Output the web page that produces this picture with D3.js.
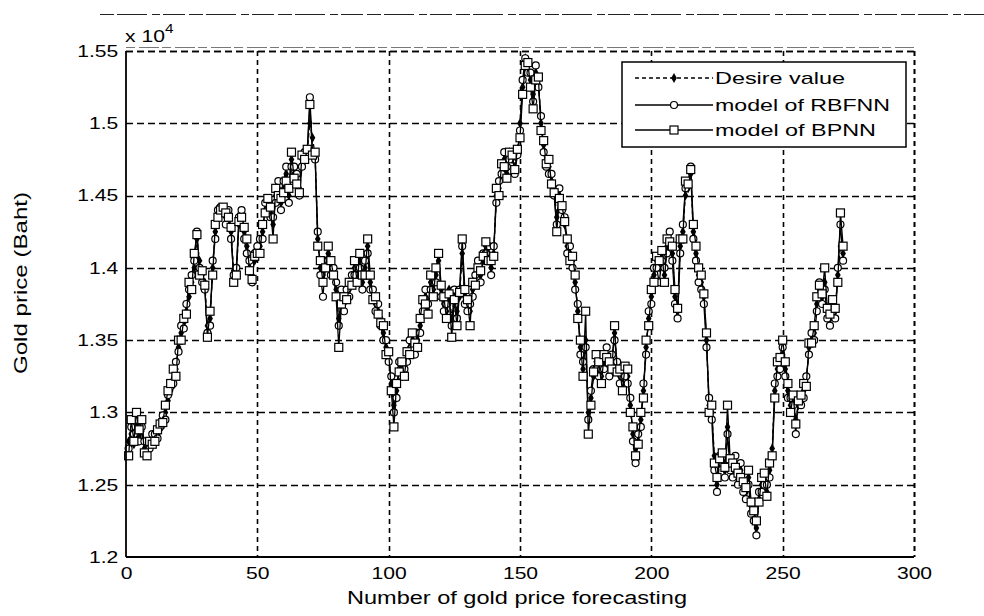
<!DOCTYPE html>
<html>
<head>
<meta charset="utf-8">
<script src="https://cdn.jsdelivr.net/npm/d3@7"></script>
<style>
  body { margin: 0; background: #fff; }
  text { font-family: "Liberation Sans", Arial, sans-serif; fill: #000; }
</style>
</head>
<body>
<svg id="chart" width="984" height="616"></svg>
<script>
// gold price (Baht), point number 1..273
const desire = [
  12800, 12850, 12780, 12900, 12830, 12870, 12750, 12720, 12760, 12800,
  12820, 12850, 12880, 12950, 13000, 13080, 13150, 13230, 13300, 13450,
  13550, 13620, 13700, 13800, 13900, 14000, 14200, 14050, 13950, 13900,
  13600, 13650, 14000, 14250, 14380, 14400, 14400, 14350, 14380, 14250,
  13980, 13950, 14300, 14370, 14250, 14150, 14000, 13950, 14050, 14120,
  14150, 14250, 14400, 14450, 14380, 14300, 14500, 14550, 14450, 14550,
  14650, 14500, 14750, 14650, 14600, 14550, 14750, 14780, 14800, 15000,
  14900, 14780, 14200, 14000, 13950, 14000, 14100, 14000, 13980, 13850,
  13650, 13800, 13750, 13800, 13850, 13900, 14000, 13950, 14050, 13900,
  14000, 14150, 13900, 13800, 13750, 13700, 13650, 13550, 13450, 13400,
  13200, 13050, 13150, 13300, 13300, 13280, 13400, 13450, 13500, 13450,
  13500, 13600, 13750, 13800, 13700, 13900, 13850, 13950, 14050, 13850,
  13750, 13700, 13850, 13650, 13800, 13700, 13800, 14100, 13800, 13750,
  13700, 13850, 13900, 14000, 13950, 14050, 14150, 14100, 14000, 14100,
  14500, 14550, 14700, 14750, 14650, 14800, 14750, 14700, 14800, 15000,
  15250, 15450, 15400, 15300, 15200, 15350, 15300, 15000, 14850, 14750,
  14700, 14600, 14550, 14350, 14500, 14450, 14300, 14150, 14100, 14050,
  13900, 13700, 13450, 13300, 13500, 13000, 13100, 13250, 13350, 13300,
  13250, 13350, 13400, 13300, 13350, 13550, 13300, 13250, 13200, 13300,
  13250, 13050, 12850, 12750, 12800, 12950, 13150, 13450, 13650, 13800,
  13950, 14050, 14000, 14100, 13950, 14150, 14200, 14100, 13800, 13700,
  14150, 14250, 14500, 14550, 14650, 14250, 14100, 13950, 13900, 13800,
  13500, 13050, 13000, 12700, 12500, 12650, 12700, 12600, 12900, 12650,
  12600, 12650, 12550, 12600, 12500, 12450, 12550, 12350, 12300, 12200,
  12400, 12500, 12550, 12450, 12600, 12750, 13150, 13300, 13350, 13400,
  13300, 13150, 13050, 13100, 12950, 13050, 13100, 13150, 13200, 13450,
  13500, 13550, 13750, 13850, 13800, 13900, 13700, 13650, 13750, 13700,
  13950, 14150, 14100
];
const rbfnn = [
  12750, 12900, 12850, 12950, 12800, 12900, 12800, 12700, 12750, 12850,
  12850, 12820, 12900, 12980, 12950, 13120, 13180, 13200, 13350, 13420,
  13600, 13580, 13750, 13850, 13950, 14050, 14250, 14000, 13900, 13850,
  13550, 13600, 14050, 14200, 14400, 14420, 14380, 14300, 14400, 14200,
  13950, 14000, 14350, 14400, 14200, 14100, 14050, 13900, 14100, 14150,
  14200, 14200, 14450, 14400, 14350, 14350, 14450, 14600, 14400, 14600,
  14700, 14450, 14700, 14700, 14650, 14500, 14700, 14800, 14780, 15180,
  14800, 14750, 14250, 13950, 13800, 14050, 14050, 13950, 14000, 13900,
  13600, 13850, 13700, 13850, 13800, 13950, 13950, 14000, 14000, 13850,
  14050, 14100, 13850, 13850, 13700, 13750, 13600, 13500, 13500, 13350,
  13250, 13000, 13100, 13350, 13250, 13300, 13350, 13500, 13450, 13400,
  13550, 13550, 13700, 13850, 13750, 13850, 13900, 13900, 14100, 13800,
  13700, 13750, 13800, 13600, 13850, 13650, 13850, 14150, 13750, 13700,
  13750, 13800, 13950, 14050, 13900, 14100, 14100, 14150, 13950, 14150,
  14450, 14600, 14650, 14800, 14700, 14750, 14800, 14650, 14780, 14950,
  15300, 15450, 15350, 15350, 15150, 15400, 15250, 15050, 14800, 14700,
  14650, 14650, 14500, 14300, 14550, 14400, 14350, 14100, 14150, 14000,
  13850, 13750, 13400, 13350, 13450, 12950, 13150, 13300, 13300, 13250,
  13300, 13300, 13450, 13250, 13400, 13500, 13350, 13200, 13250, 13250,
  13200, 13100, 12800, 12650, 12850, 12900, 13200, 13400, 13700, 13750,
  14000, 14000, 13900, 14050, 14000, 14100, 14250, 14050, 13750, 13650,
  14100, 14300, 14550, 14600, 14700, 14200, 14050, 13900, 13850, 13750,
  13450, 13100, 12950, 12600, 12450, 12700, 12650, 12550, 12850, 12600,
  12550, 12700, 12500, 12650, 12450, 12400, 12500, 12300, 12250, 12150,
  12450, 12450, 12500, 12500, 12550, 12700, 13200, 13250, 13300, 13450,
  13250, 13100, 13100, 13050, 12850, 13100, 13050, 13100, 13250, 13400,
  13550, 13500, 13700, 13900, 13750, 13850, 13650, 13600, 13700, 13650,
  14000, 14300, 14050
];
const bpnn = [
  12700, 12950, 12800, 13000, 12880, 12950, 12720, 12700, 12800, 12780,
  12800, 12880, 12920, 12930, 13050, 13150, 13200, 13300, 13250, 13500,
  13500, 13650, 13680, 13900, 13850, 14100, 14230, 13950, 13980, 13880,
  13520, 13700, 13950, 14300, 14350, 14400, 14420, 14380, 14350, 14280,
  13900, 13950, 14320, 14350, 14280, 14200, 13980, 13920, 14080, 14100,
  14100, 14300, 14380, 14480, 14420, 14200, 14550, 14500, 14480, 14520,
  14600, 14550, 14800, 14620, 14580, 14520, 14780, 14750, 14820, 15130,
  14780, 14800, 14150, 14050, 13900, 14000, 14150, 14050, 13950, 13800,
  13450, 13750, 13800, 13780, 13900, 13880, 14050, 13900, 14100, 13950,
  13950, 14200, 13950, 13780, 13800, 13680, 13620, 13600, 13400, 13420,
  13150, 12900, 13200, 13280, 13350, 13250, 13420, 13400, 13550, 13480,
  13450, 13650, 13780, 13750, 13680, 13950, 13800, 14000, 14100, 13880,
  13800, 13650, 13820, 13520, 13780, 13600, 13830, 14200, 13850, 13780,
  13600, 13900, 13880, 14000, 13980, 14080, 14180, 14050, 14050, 14080,
  14550, 14500, 14720, 14700, 14620, 14800, 14780, 14680, 14820, 14900,
  15200, 15400, 15420, 15250, 15100, 15300, 15320, 14950, 14880, 14720,
  14750, 14580, 14520, 14250, 14480, 14430, 14320, 14200, 14050, 14080,
  13950, 13650, 13500, 13250, 13700, 12850, 13050, 13280, 13400, 13350,
  13200, 13400, 13380, 13350, 13300, 13600, 13280, 13300, 13150, 13320,
  13300, 13000, 12900, 12700, 12780, 13000, 13100, 13500, 13600, 13850,
  13900, 14080, 14050, 14120, 13900, 14200, 14180, 14150, 13850, 13720,
  14200, 14200, 14600, 14580, 14680, 14300, 14150, 14000, 13950, 13820,
  13550, 13000, 13050, 12650, 12550, 12680, 12720, 12620, 13050, 12680,
  12650, 12620, 12580, 12550, 12520, 12480, 12600, 12380, 12320, 12250,
  12380, 12550, 12580, 12420, 12650, 12700, 13100, 13350, 13380, 13500,
  13350, 13200, 13000, 13120, 12920, 13080, 13120, 13200, 13180, 13480,
  13480, 13600, 13800, 13880, 13820, 14000, 13720, 13680, 13780, 13720,
  13900, 14380, 14150
];
const xTicks = [0, 50, 100, 150, 200, 250, 300];
const yTicks = [12000, 12500, 13000, 13500, 14000, 14500, 15000, 15500];
const legendNames = ["Desire value", "model of RBFNN", "model of BPNN"];

const svg = d3.select("#chart");
const plotL = 126, plotR = 914, plotT = 51, plotB = 557;
const stretch = "scale(1.28,1)";

const x = d3.scaleLinear().domain([0, 300]).range([plotL, plotR]);
const y = d3.scaleLinear().domain([12000, 15500]).range([plotB, plotT]);

// scan noise lines above the plot
svg.append("line")
  .attr("x1", 100).attr("x2", 984).attr("y1", 14.5).attr("y2", 14.5)
  .attr("stroke", "#222").attr("stroke-width", 1)
  .attr("stroke-dasharray", "14,3,30,5,8,3,22,4");
svg.append("line")
  .attr("x1", plotL).attr("x2", plotR).attr("y1", plotT - 3.5).attr("y2", plotT - 3.5)
  .attr("stroke", "#555").attr("stroke-width", 0.8)
  .attr("stroke-dasharray", "9,4,20,3");

// grid
svg.append("g").selectAll("line")
  .data(xTicks.slice(1))
  .enter().append("line")
  .attr("x1", d => Math.round(x(d)) + 0.5).attr("x2", d => Math.round(x(d)) + 0.5)
  .attr("y1", plotT).attr("y2", plotB)
  .attr("stroke", "#000").attr("stroke-width", 1.6)
  .attr("stroke-dasharray", "5,4");
svg.append("g").selectAll("line")
  .data(yTicks.slice(1))
  .enter().append("line")
  .attr("x1", plotL).attr("x2", plotR)
  .attr("y1", d => Math.round(y(d)) + 0.5).attr("y2", d => Math.round(y(d)) + 0.5)
  .attr("stroke", "#000").attr("stroke-width", 1.6)
  .attr("stroke-dasharray", "7,4");

// series
const line = d3.line()
  .x((d, i) => x(i + 1))
  .y(d => y(d));

const series = [
  { values: desire, dash: "4,3", marker: "diamond" },
  { values: rbfnn, dash: null, marker: "circle" },
  { values: bpnn, dash: null, marker: "square" }
];

function drawMarker(sel, kind) {
  if (kind === "diamond") {
    sel.append("path")
      .attr("d", d3.symbol(d3.symbolDiamond, 28))
      .attr("fill", "#000");
  } else if (kind === "circle") {
    sel.append("circle")
      .attr("r", 3.5)
      .attr("fill", "#fff").attr("stroke", "#000").attr("stroke-width", 1.2);
  } else {
    sel.append("rect")
      .attr("x", -4).attr("y", -4).attr("width", 8).attr("height", 8)
      .attr("fill", "#fff").attr("stroke", "#000").attr("stroke-width", 1.2);
  }
}

series.forEach(s => {
  svg.append("path")
    .datum(s.values)
    .attr("d", line)
    .attr("fill", "none")
    .attr("stroke", "#000")
    .attr("stroke-width", 1.3)
    .attr("stroke-dasharray", s.dash);
  let g = svg.append("g").selectAll("g")
    .data(s.values)
    .enter().append("g")
    .attr("transform", (d, i) => "translate(" + x(i + 1) + "," + y(d) + ")");
  drawMarker(g, s.marker);
});

// box: left and bottom solid, top and right dashed
svg.append("line")
  .attr("x1", plotL).attr("x2", plotL).attr("y1", plotT).attr("y2", plotB)
  .attr("stroke", "#000").attr("stroke-width", 1.8);
svg.append("line")
  .attr("x1", plotL).attr("x2", plotR).attr("y1", plotB).attr("y2", plotB)
  .attr("stroke", "#000").attr("stroke-width", 1.8);
svg.append("line")
  .attr("x1", plotL).attr("x2", plotR).attr("y1", plotT + 0.5).attr("y2", plotT + 0.5)
  .attr("stroke", "#000").attr("stroke-width", 1.6).attr("stroke-dasharray", "7,4");
svg.append("line")
  .attr("x1", plotR + 0.5).attr("x2", plotR + 0.5).attr("y1", plotT).attr("y2", plotB)
  .attr("stroke", "#000").attr("stroke-width", 1.6).attr("stroke-dasharray", "5,4");

// axes
const yAxis = svg.append("g")
  .attr("transform", "translate(" + plotL + ",0)")
  .call(d3.axisLeft(y).tickValues(yTicks).tickSize(0).tickPadding(6)
    .tickFormat(d => String(+(d / 1e4).toFixed(2))));
const xAxis = svg.append("g")
  .attr("transform", "translate(0," + plotB + ")")
  .call(d3.axisBottom(x).tickValues(xTicks).tickSize(0).tickPadding(10));
[xAxis, yAxis].forEach(a => {
  a.select(".domain").remove();
  a.selectAll("text")
    .attr("font-size", 16.5)
    .attr("font-family", "Liberation Sans, Arial, sans-serif")
    .attr("fill", "#000")
    .attr("transform", stretch);
});

// exponent label
const expo = svg.append("text")
  .attr("transform", "translate(125,42) " + stretch)
  .attr("font-size", 16.5);
expo.append("tspan").text("x 10");
expo.append("tspan").attr("font-size", 12).attr("dy", -9).text("4");

// axis titles
svg.append("text")
  .attr("x", 517).attr("y", 604)
  .attr("text-anchor", "middle")
  .attr("font-size", 17.5)
  .attr("textLength", 340).attr("lengthAdjust", "spacingAndGlyphs")
  .text("Number of gold price forecasting");
svg.append("text")
  .attr("transform", "translate(27,283) rotate(-90)")
  .attr("text-anchor", "middle")
  .attr("font-size", 17.5)
  .attr("textLength", 182).attr("lengthAdjust", "spacingAndGlyphs")
  .text("Gold price (Baht)");

// legend
const legend = svg.append("g");
legend.append("rect")
  .attr("x", 622).attr("y", 62).attr("width", 284).attr("height", 85)
  .attr("fill", "#fff").attr("stroke", "#000").attr("stroke-width", 1.5);
const legendY = [78, 105, 130];
const legendW = [130, 175, 161];
legendNames.forEach((name, i) => {
  legend.append("line")
    .attr("x1", 635).attr("x2", 713)
    .attr("y1", legendY[i]).attr("y2", legendY[i])
    .attr("stroke", "#000").attr("stroke-width", 1.3)
    .attr("stroke-dasharray", series[i].dash);
  let m = legend.append("g").attr("transform", "translate(674," + legendY[i] + ")");
  drawMarker(m, series[i].marker);
  legend.append("text")
    .attr("x", 715).attr("y", legendY[i] + 6)
    .attr("font-size", 17)
    .attr("textLength", legendW[i]).attr("lengthAdjust", "spacingAndGlyphs")
    .text(name);
});
</script>
</body>
</html>
